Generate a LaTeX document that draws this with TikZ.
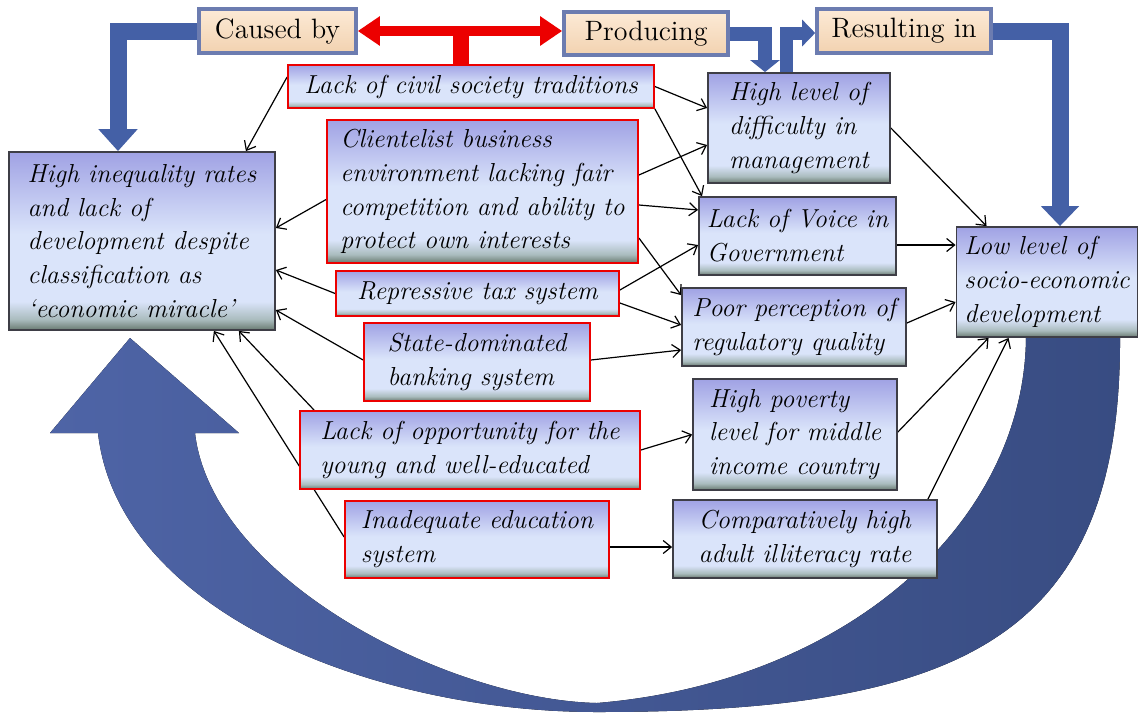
\documentclass[tikz,border=0pt]{standalone}
\usepackage{fontspec}
\usetikzlibrary{arrows.meta}

\definecolor{flowblue}{RGB}{68,96,166}
\definecolor{arcleft}{RGB}{78,100,166}
\definecolor{arcright}{RGB}{56,76,130}
\definecolor{redline}{RGB}{236,0,0}
\definecolor{boxtop}{RGB}{160,162,228}
\definecolor{boxmid}{RGB}{218,228,250}
\definecolor{boxlow}{RGB}{170,188,190}
\definecolor{boxbot}{RGB}{105,122,112}
\definecolor{boxedge}{RGB}{62,62,70}
\definecolor{tagtop}{RGB}{252,234,214}
\definecolor{tagbot}{RGB}{242,210,176}
\definecolor{tagframe}{RGB}{108,124,176}

\pgfdeclareverticalshading{boxshade}{100bp}{color(0bp)=(boxbot); color(25bp)=(boxbot); color(28bp)=(boxlow); color(33bp)=(boxmid); color(52bp)=(boxmid); color(75bp)=(boxtop); color(100bp)=(boxtop)}

\pgfdeclarelayer{arcs}
\pgfdeclarelayer{links}
\pgfsetlayers{arcs,links,main}

\newcommand\boxfont{\fontsize{13}{16.9}\selectfont\itshape}
\newcommand\tagfont{\fontsize{14}{16}\selectfont}

\tikzset{
  box/.style={shade, shading=boxshade, draw, line width=0.9pt, inner xsep=4pt, inner ysep=0pt, align=left, font=\boxfont},
  cause/.style={box, draw=redline},
  effect/.style={box, draw=boxedge},
  tag/.style={top color=tagtop, bottom color=tagbot, draw=tagframe, line width=1.8pt, inner sep=0pt, font=\tagfont},
  link/.style={->, line width=0.6pt},
  flow/.style={draw=flowblue, line width=#1},
}

\begin{document}
\begin{tikzpicture}[x=0.5pt,y=-0.5pt,>={Straight Barb[length=4pt,width=6.5pt]}]
\useasboundingbox (0,0) rectangle (1140,713);

% labels on top
\node[tag, minimum width=78.5pt, minimum height=22pt] (cb) at (277.5,31) {Caused by};
\node[tag, minimum width=82pt, minimum height=21.5pt] (pr) at (646,33.5) {Producing};
\node[tag, minimum width=87pt, minimum height=22pt] (ri) at (904,31) {Resulting in};

% problem and outcome
\node[effect, minimum width=133pt, minimum height=89pt] (hi) at (142,241) {High inequality rates\\and lack of\\development despite\\classification as\\`economic miracle'};
\node[effect, minimum width=89.5pt, minimum height=55pt] (ll) at (1047,282) {Low level of\\socio-economic\\development};

% causes
\node[cause, minimum width=183pt, minimum height=21.5pt] (lc) at (471,86.5) {Lack of civil society traditions};
\node[cause, minimum width=155.5pt, minimum height=71.5pt] (cl) at (482.5,191.5) {Clientelist business\\environment lacking fair\\competition and ability to\\protect own interests};
\node[cause, minimum width=141.5pt, minimum height=22.5pt] (rt) at (477.5,293.5) {Repressive tax system};
\node[cause, minimum width=113pt, minimum height=39pt] (sd) at (477,362) {State-dominated\\banking system};
\node[cause, minimum width=170pt, minimum height=39pt] (lo) at (470,450) {Lack of opportunity for the\\young and well-educated};
\node[cause, minimum width=132pt, minimum height=38.5pt] (ie) at (477,539.5) {Inadequate education\\system};

% products
\node[effect, minimum width=91pt, minimum height=55pt] (hd) at (799,128) {High level of\\difficulty in\\management};
\node[effect, minimum width=97.5pt, minimum height=39pt] (lv) at (797.5,236) {Lack of Voice in\\Government};
\node[effect, minimum width=112pt, minimum height=39pt] (pp) at (794,327) {Poor perception of\\regulatory quality};
\node[effect, minimum width=102pt, minimum height=55.5pt] (hp) at (795,434.5) {High poverty\\level for middle\\income country};
\node[effect, minimum width=132pt, minimum height=39pt] (ch) at (805,539) {Comparatively high\\adult illiteracy rate};

% big return arrow
\begin{pgfonlayer}{arcs}
\fill[left color=arcleft, right color=arcright] (1120,335) .. controls (1122,640) and (960,712) .. (597,712) .. controls (370,712) and (118,610) .. (98,433) -- (50,433) -- (130,338) -- (239,433) -- (195,433) .. controls (212,580) and (450,700) .. (597,703) .. controls (850,682) and (1026,520) .. (1026,335) -- cycle;
\end{pgfonlayer}

\begin{pgfonlayer}{links}
% thick flow arrows
\coordinate (cbbend) at (118,31);
\draw[flow=8.5pt, -{Triangle[width=19pt,length=11pt]}] (cb.west) -- (cbbend) -- (cbbend |- hi.north);
\coordinate (prbend) at (765,33.5);
\draw[flow=7pt, -{Triangle[width=14.5pt,length=6pt]}] (pr.east) -- (prbend) -- (prbend |- hd.north);
\coordinate (upbend) at (786.5,33);
\draw[flow=6.5pt, -{Triangle[width=13pt,length=6.5pt]}] (upbend |- hd.north) -- (upbend) -- (upbend -| ri.west);
\coordinate (ribend) at (1060,31);
\draw[flow=8.5pt, -{Triangle[width=18.5pt,length=10pt]}] (ri.east) -- (ribend) -- (ribend |- ll.north);
% red link
\draw[redline, line width=5pt, {Triangle[width=14pt,length=11pt]}-{Triangle[width=14pt,length=11pt]}] (cb.east) -- (cb.east -| pr.west);
\coordinate (redjoint) at (461,31);
\draw[redline, line width=8pt] (redjoint) -- (redjoint |- lc.north);

% causes to the problem
\draw[link] ([yshift=4.75pt]lc.west) -- ([xshift=-15pt]hi.north east);
\draw[link] ([yshift=-4pt]cl.west) -- ([yshift=6.5pt]hi.east);
\draw[link] (rt.west) -- ([yshift=-14.5pt]hi.east);
\draw[link] ([yshift=1pt]sd.west) -- ([yshift=-34.5pt]hi.east);
\draw[link] ([xshift=7.5pt]lo.north west) -- ([xshift=-18.5pt]hi.south east);
\draw[link] ([yshift=1.25pt]ie.west) -- ([xshift=-31pt]hi.south east);

% causes to products
\draw[link] (lc.east) -- ([yshift=10pt]hd.west);
\draw[link] ([yshift=8.25pt]cl.east) -- ([yshift=-8.5pt]hd.west);
\draw[link] (lc.south east) -- ([xshift=2pt]lv.north west);
\draw[link] ([yshift=-6.75pt]cl.east) -- ([yshift=13pt]lv.west);
\draw[link] ([yshift=1.75pt]rt.east) -- ([yshift=-4.5pt]lv.west);
\draw[link] ([yshift=-23.25pt]cl.east) -- ([yshift=-4pt]pp.north west);
\draw[link] ([yshift=-4.75pt]rt.east) -- ([yshift=1pt]pp.west);
\draw[link] ([yshift=1pt]sd.east) -- ([yshift=-11.5pt]pp.west);
\draw[link] (lo.east) -- (hp.west);
\draw[link] ([yshift=-3.75pt]ie.east) -- ([yshift=-4pt]ch.west);

% products to the outcome
\draw[link] (hd.east) -- ([xshift=15.5pt]ll.north west);
\draw[link] ([yshift=-4.5pt]lv.east) -- ([yshift=18.5pt]ll.west);
\draw[link] ([yshift=2pt]pp.east) -- ([yshift=-10pt]ll.west);
\draw[link] ([yshift=1.25pt]hp.east) -- ([xshift=16.5pt]ll.south west);
\draw[link] ([xshift=-5pt]ch.north east) -- ([xshift=26.5pt]ll.south west);
\end{pgfonlayer}
\end{tikzpicture}
\end{document}
